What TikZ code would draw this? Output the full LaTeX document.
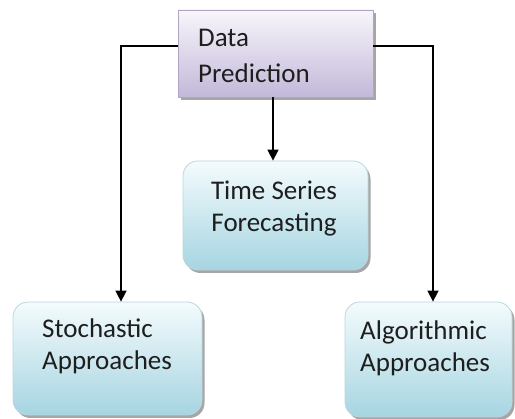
\documentclass[tikz,border=0pt]{standalone}
\usepackage{fontspec}
\setmainfont{Carlito}
\usetikzlibrary{shadows,arrows.meta,calc}
\definecolor{purtop}{HTML}{F8F6FB}
\definecolor{purbot}{HTML}{C3B8D9}
\definecolor{purdraw}{HTML}{AFA3C6}
\definecolor{blutop}{HTML}{F4FBFD}
\definecolor{blubot}{HTML}{A6D5E1}
\definecolor{bludraw}{HTML}{BBD6DE}
\definecolor{txt}{HTML}{1E1E1E}
\newcommand\twoleft[3]{\vtop{\baselineskip=#3pt\hbox{#1}\hbox{#2}}}
\newcommand\twocenter[3]{\vtop{\baselineskip=#3pt\halign{\hfil##\hfil\cr #1\cr #2\cr}}}
\tikzset{
  boxshadow/.style={drop shadow={shadow xshift=2.5pt,shadow yshift=-3pt,fill=black,opacity=0.35}},
  topbox/.style={draw=purdraw,line width=0.8pt,top color=purtop,bottom color=purbot,boxshadow,inner sep=0pt},
  leafbox/.style={draw=bludraw,line width=0.8pt,rounded corners=15pt,top color=blutop,bottom color=blubot,boxshadow,inner sep=0pt},
  lbl/.style={inner sep=0pt,text=txt,font=\fontsize{27}{35}\selectfont},
  arr/.style={line width=1.6pt,draw=black,-{Triangle[width=11pt,length=11pt]}},
  conn/.style={line width=1.6pt,draw=black}
}
\begin{document}
\begin{tikzpicture}[x=1pt,y=-1pt]
\useasboundingbox (0,0) rectangle (515,419);
% boxes
\node[topbox,minimum width=195pt,minimum height=87pt] (top) at (275.5,53.5) {};
\node[leafbox,minimum width=185pt,minimum height=109pt] (ts) at (275.5,215.5) {};
\node[leafbox,minimum width=189pt,minimum height=113pt] (st) at (107.5,358.5) {};
\node[leafbox,minimum width=167pt,minimum height=115pt] (al) at (428.5,359.5) {};
% labels
\node[lbl,anchor=base west] (ltop) at (198,47) {\twoleft{Data}{Prediction}{36}};
\node[lbl,anchor=base] (lts) at (274,200) {\twocenter{Time Series}{Forecasting}{32}};
\node[lbl,anchor=base west] (lst) at (42,338) {\twoleft{Stochastic}{Approaches}{32}};
\node[lbl,anchor=base west] (lal) at (360,340) {\twoleft{Algorithmic}{Approaches}{32}};
% connectors
\draw[arr] (top.west |- 0,46) -| (st.north -| 121,0);
\draw[arr] (top.east |- 0,46) -| (al.north -| 433,0);
\draw[arr] (top.south -| 273,0) -- (ts.north -| 273,0);
\end{tikzpicture}
\end{document}
